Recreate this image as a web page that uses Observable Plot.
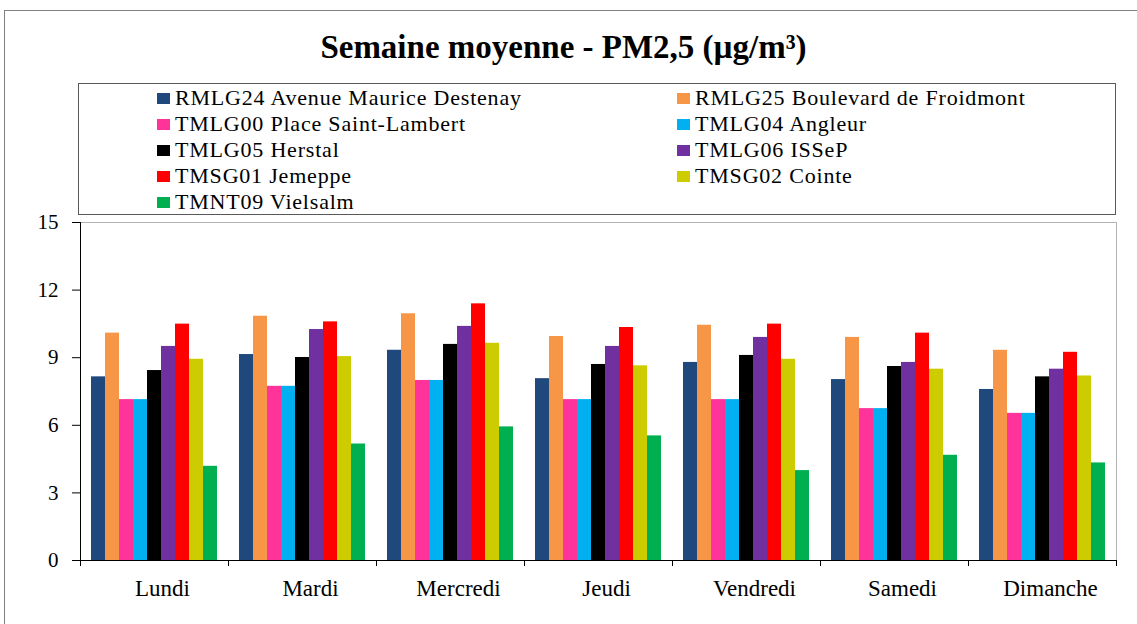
<!DOCTYPE html>
<html><head><meta charset="utf-8">
<script src="https://cdn.jsdelivr.net/npm/d3@7"></script>
<script src="https://cdn.jsdelivr.net/npm/@observablehq/plot@0.6"></script>
<style>
body{margin:0;background:#fff;font-family:"Liberation Serif","Times New Roman",serif;color:#000;}
#wrap{position:relative;width:1137px;height:624px;overflow:hidden;}
#frame{position:absolute;left:4px;top:10px;width:1200px;height:700px;border-left:1px solid #808080;border-top:1px solid #808080;}
#title{position:absolute;left:-5px;width:1137px;top:29px;text-align:center;font-weight:bold;font-size:33px;}
#legend{position:absolute;left:78px;top:83px;width:1036px;height:130px;border:1.5px solid #595959;}
.item{position:absolute;font-size:22px;line-height:26px;height:26px;white-space:nowrap;letter-spacing:0.8px;}
.sw{position:absolute;left:0;top:8px;width:13px;height:11px;}
.lbl{position:absolute;left:18px;top:0;}
#chart{position:absolute;left:0;top:212px;}
</style>
</head><body>
<div id="wrap">
<div id="frame"></div>
<div id="title">Semaine moyenne - PM2,5 (µg/m³)</div>
<div id="legend"></div>
<div id="chart"></div>
</div>
<script>
const days = ["Lundi","Mardi","Mercredi","Jeudi","Vendredi","Samedi","Dimanche"];
const stations = ["RMLG24 Avenue Maurice Destenay","RMLG25 Boulevard de Froidmont","TMLG00 Place Saint-Lambert","TMLG04 Angleur","TMLG05 Herstal","TMLG06 ISSeP","TMSG01 Jemeppe","TMSG02 Cointe","TMNT09 Vielsalm"];
const colors = ["#1F497D","#F79646","#FF3399","#00B0F0","#000000","#7030A0","#FF0000","#CCCC00","#00B050"];
const rmlg24 = [8.15, 9.14, 9.33, 8.07, 8.79, 8.03, 7.59];
const rmlg25 = [10.09, 10.84, 10.95, 9.94, 10.44, 9.90, 9.33];
const tmlg00 = [7.14, 7.73, 7.99, 7.14, 7.14, 6.74, 6.53];
const tmlg04 = [7.14, 7.73, 7.99, 7.14, 7.14, 6.74, 6.53];
const tmlg05 = [8.43, 9.01, 9.59, 8.70, 9.10, 8.61, 8.15];
const tmlg06 = [9.50, 10.25, 10.39, 9.50, 9.90, 8.79, 8.49];
const tmsg01 = [10.49, 10.59, 11.39, 10.34, 10.49, 10.09, 9.24];
const tmsg02 = [8.93, 9.05, 9.64, 8.64, 8.93, 8.49, 8.19];
const tmnt09 = [4.18, 5.17, 5.93, 5.53, 3.99, 4.67, 4.33];
const yTicks = [0, 3, 6, 9, 12, 15];

const series = [rmlg24, rmlg25, tmlg00, tmlg04, tmlg05, tmlg06, tmsg01, tmsg02, tmnt09];
const data = [];
stations.forEach((s, i) => days.forEach((d, j) => data.push({day: d, station: s, value: series[i][j]})));

// legend
const legend = document.getElementById("legend");
stations.forEach((s, i) => {
  const col = i % 2, row = Math.floor(i / 2);
  const it = document.createElement("div");
  it.className = "item";
  it.style.left = (col === 0 ? 78 : 598) + "px";
  it.style.top = (1 + row * 26) + "px";
  const sw = document.createElement("span"); sw.className = "sw"; sw.style.background = colors[i];
  const lb = document.createElement("span"); lb.className = "lbl"; lb.textContent = s;
  it.appendChild(sw); it.appendChild(lb);
  legend.appendChild(it);
});

const W = 1137, ML = 80, MR = 21;
const step = (W - ML - MR) / days.length;

const chart = Plot.plot({
  width: W, height: 412, marginTop: 10, marginBottom: 64, marginLeft: ML, marginRight: MR,
  style: {fontFamily: "Liberation Serif, Times New Roman, serif", fontSize: "21px", color: "#000", background: "transparent", overflow: "visible"},
  fx: {domain: days, padding: 0, label: null, axis: null},
  x: {domain: stations, paddingInner: 0, paddingOuter: 0.75, axis: null},
  y: {domain: [0, 15], label: null, axis: null},
  color: {domain: stations, range: colors},
  marks: [
    Plot.ruleY([15], {stroke: "#b3b3b3"}),
    Plot.frame({anchor: "right", facetAnchor: "right", stroke: "#b3b3b3"}),
    Plot.barY(data, {fx: "day", x: "station", y: "value", fill: "station"}),
    Plot.axisY({ticks: yTicks, tickSize: 8, tickPadding: 14, label: null, fontSize: 21}),
    Plot.frame({anchor: "left", facetAnchor: "left", stroke: "#000"}),
    Plot.ruleY([0], {stroke: "#000"}),
    Plot.axisFx({anchor: "bottom", tickSize: 0, tickPadding: 19, dx: 8, label: null, fontSize: 23}),
    Plot.axisFx({anchor: "bottom", text: null, tickSize: 6, dx: -step / 2, label: null}),
    Plot.axisFx({anchor: "bottom", ticks: ["Dimanche"], text: null, tickSize: 6, dx: step / 2, label: null})
  ]
});
document.getElementById("chart").appendChild(chart);
</script>
</body></html>
